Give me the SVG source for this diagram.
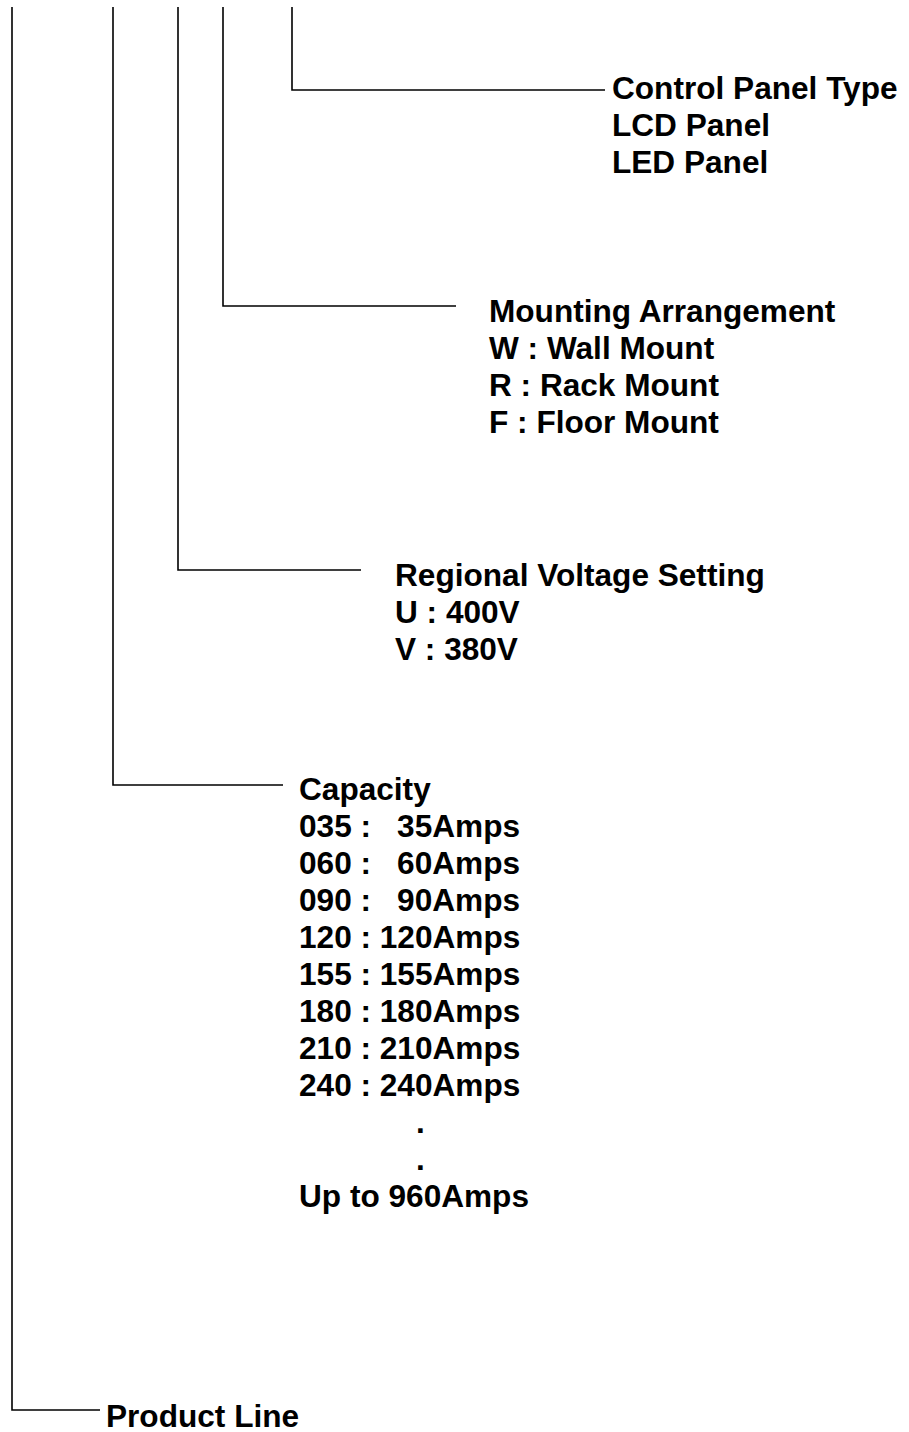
<svg xmlns="http://www.w3.org/2000/svg" width="909" height="1432" viewBox="0 0 909 1432">
<style>
.t{font-family:"Liberation Sans",Arial,sans-serif;font-weight:bold;font-size:31.6px;fill:#000}
.c{fill:none;stroke:#000;stroke-width:1.6}
</style>
<rect width="909" height="1432" fill="#fff"/>
<g id="connectors">
<polyline class="c" points="292,7 292,90 605,90"/>
<polyline class="c" points="223,7 223,306 456,306"/>
<polyline class="c" points="178,7 178,570 361,570"/>
<polyline class="c" points="113,7 113,785 283,785"/>
<polyline class="c" points="12,7 12,1410 100,1410"/>
</g>
<g id="control-panel">
<text class="t" x="612" y="99">Control Panel Type</text>
<text class="t" x="612" y="136">LCD Panel</text>
<text class="t" x="612" y="173">LED Panel</text>
</g>
<g id="mounting">
<text class="t" x="489" y="322">Mounting Arrangement</text>
<text class="t" x="489" y="359">W : Wall Mount</text>
<text class="t" x="489" y="396">R : Rack Mount</text>
<text class="t" x="489" y="433">F : Floor Mount</text>
</g>
<g id="voltage">
<text class="t" x="395" y="586">Regional Voltage Setting</text>
<text class="t" x="395" y="623">U : 400V</text>
<text class="t" x="395" y="660">V : 380V</text>
</g>
<g id="capacity">
<text class="t" x="299" y="800">Capacity</text>
<text class="t" x="299" y="837">035 :<tspan x="520" text-anchor="end">35Amps</tspan></text>
<text class="t" x="299" y="874">060 :<tspan x="520" text-anchor="end">60Amps</tspan></text>
<text class="t" x="299" y="911">090 :<tspan x="520" text-anchor="end">90Amps</tspan></text>
<text class="t" x="299" y="948">120 : 120Amps</text>
<text class="t" x="299" y="985">155 : 155Amps</text>
<text class="t" x="299" y="1022">180 : 180Amps</text>
<text class="t" x="299" y="1059">210 : 210Amps</text>
<text class="t" x="299" y="1096">240 : 240Amps</text>
<text class="t" x="416" y="1133">.</text>
<text class="t" x="416" y="1170">.</text>
<text class="t" x="299" y="1207">Up to 960Amps</text>
</g>
<g id="product-line">
<text class="t" x="106" y="1427">Product Line</text>
</g>
</svg>
